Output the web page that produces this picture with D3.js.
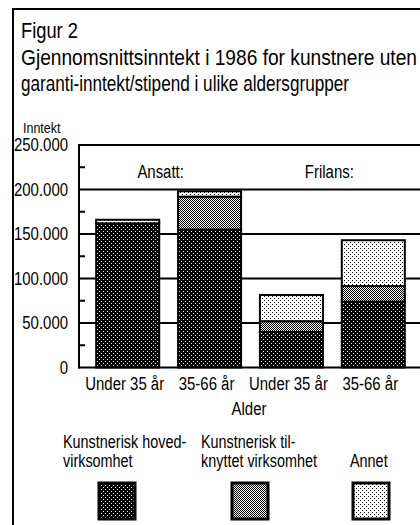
<!DOCTYPE html>
<html>
<head>
<meta charset="utf-8">
<script src="https://cdn.jsdelivr.net/npm/d3@7/dist/d3.min.js"></script>
<style>
  html, body { margin: 0; padding: 0; background: #fff; }
  svg { display: block; }
  text { font-family: "Liberation Sans", Arial, Helvetica, sans-serif; fill: #000; }
</style>
</head>
<body>
<script>
// Average income 1986 by employment form and age group (NOK)
const groups = ["Ansatt", "Ansatt", "Frilans", "Frilans"];
const ages = ["Under 35 år", "35-66 år", "Under 35 år", "35-66 år"];
const hoved = [162000, 155000, 40000, 74000];       // Kunstnerisk hovedvirksomhet
const tilknyttet = [0, 37000, 12000, 17500];        // Kunstnerisk tilknyttet virksomhet
const annet = [4000, 6000, 29500, 51500];           // Annet
const yTicks = [0, 50000, 100000, 150000, 200000, 250000];
const yMinorTicks = [25000, 75000, 125000, 175000, 225000];
const seriesKeys = ["hoved", "tilknyttet", "annet"];
const legendLabels = [
  ["Kunstnerisk hoved-", "virksomhet"],
  ["Kunstnerisk til-", "knyttet virksomhet"],
  ["Annet"]
];
const titleLines = ["Figur 2",
  "Gjennomsnittsinntekt i 1986 for kunstnere uten",
  "garanti-inntekt/stipend i ulike aldersgrupper"];

const W = 420, H = 525;
const svg = d3.select("body").append("svg").attr("width", W).attr("height", H);

// Condensed look: squeeze each text horizontally by a factor
function narrow(sel, f = 0.83) {
  sel.each(function () {
    const w = this.getComputedTextLength();
    d3.select(this).attr("textLength", w * f).attr("lengthAdjust", "spacingAndGlyphs");
  });
  return sel;
}

// Fill patterns
const defs = svg.append("defs");
function pattern(id, bg, fg, cells, size) {
  const p = defs.append("pattern").attr("id", id)
    .attr("patternUnits", "userSpaceOnUse").attr("width", size).attr("height", size);
  p.append("rect").attr("width", size).attr("height", size).attr("fill", bg);
  cells.forEach(([cx, cy, s]) => p.append("rect").attr("x", cx).attr("y", cy)
    .attr("width", s).attr("height", s).attr("fill", fg).attr("shape-rendering", "crispEdges"));
}
pattern("p-hoved", "#000", "#fff", [[1, 1, 1], [3, 3, 1]], 4);
pattern("p-tilknyttet", "#fff", "#000", [[0, 0, 1], [1, 1, 1]], 2);
pattern("p-annet", "#fff", "#000", [[0, 0, 1], [2, 2, 1]], 4);

// Outer frame (open towards right and bottom)
svg.append("path").attr("d", "M13,545V9H445").attr("fill", "none")
  .attr("stroke", "#000").attr("stroke-width", 2);

// Title
const titleW = [57, 396, 328];
titleLines.forEach((t, i) => {
  svg.append("text").attr("x", 21).attr("y", 38 + i * 26.5)
    .attr("font-size", 22).attr("textLength", titleW[i])
    .attr("lengthAdjust", "spacingAndGlyphs").text(t);
});

// Scales
const keys = d3.range(groups.length);
const x = d3.scaleBand().domain(keys).range([79, 422]).paddingInner(0.23).paddingOuter(0.21);
const y = d3.scaleLinear().domain([0, 250000]).range([367.5, 145]);

const loc = d3.formatLocale({ decimal: ",", thousands: ".", grouping: [3], currency: ["", ""] });
const fmt = loc.format(",d");

// Gridlines
svg.append("g").selectAll("line").data(yTicks.filter(d => d > 0)).join("line")
  .attr("x1", 79).attr("x2", W + 10)
  .attr("y1", d => y(d)).attr("y2", d => y(d))
  .attr("stroke", "#000").attr("stroke-width", 2);

// Stacked bars
const rows = keys.map(i => ({ hoved: hoved[i], tilknyttet: tilknyttet[i], annet: annet[i] }));
const stacked = d3.stack().keys(seriesKeys)(rows);
const gBars = svg.append("g");
stacked.forEach(s => {
  gBars.selectAll(null).data(s.map((d, i) => ({ d, i })).filter(o => o.d[1] > o.d[0])).join("rect")
    .attr("x", o => x(o.i)).attr("width", x.bandwidth())
    .attr("y", o => y(o.d[1])).attr("height", o => y(o.d[0]) - y(o.d[1]))
    .attr("fill", `url(#p-${s.key})`)
    .attr("stroke", "#000").attr("stroke-width", 2);
});

// Left axis and baseline
const yAxis = d3.axisLeft(y).tickValues(yTicks).tickSize(0).tickPadding(11).tickFormat(fmt);
const gy = svg.append("g").attr("transform", "translate(79,0)").call(yAxis);
gy.select(".domain").remove();
narrow(gy.selectAll("text").attr("font-size", 18).attr("font-family", null));
svg.append("line").attr("x1", 79).attr("x2", 79).attr("y1", y(250000) - 1).attr("y2", y(0) + 1)
  .attr("stroke", "#000").attr("stroke-width", 2);
svg.append("line").attr("x1", 78).attr("x2", W + 10).attr("y1", y(0)).attr("y2", y(0))
  .attr("stroke", "#000").attr("stroke-width", 2);
svg.append("g").selectAll("line").data(yMinorTicks).join("line")
  .attr("x1", 79).attr("x2", 85).attr("y1", d => y(d)).attr("y2", d => y(d))
  .attr("stroke", "#000").attr("stroke-width", 2);

// Category labels
narrow(svg.append("g").selectAll("text").data(keys).join("text")
  .attr("x", i => x(i) + x.bandwidth() / 2 - 3).attr("y", 390)
  .attr("text-anchor", "middle").attr("font-size", 18).text(i => ages[i]));

// Group headers
const groupNames = Array.from(new Set(groups));
const groupShift = [-8, -3];
narrow(svg.append("g").selectAll("text").data(groupNames).join("text")
  .attr("x", (g, j) => {
    const idx = keys.filter(i => groups[i] === g);
    return (x(idx[0]) + x(idx[idx.length - 1]) + x.bandwidth()) / 2 + groupShift[j];
  })
  .attr("y", 178).attr("text-anchor", "middle").attr("font-size", 18).text(g => g + ":"));

// Axis titles
narrow(svg.append("text").attr("x", 23).attr("y", 133).attr("font-size", 15).text("Inntekt"));
narrow(svg.append("text").attr("x", 249).attr("y", 415).attr("text-anchor", "middle")
  .attr("font-size", 18).text("Alder"));

// Legend
const legX = [63, 201, 350];
const boxX = [99, 232, 353];
legendLabels.forEach((lines, i) => {
  const base = lines.length === 1 ? 467 : 448;
  lines.forEach((t, k) => {
    narrow(svg.append("text").attr("x", legX[i]).attr("y", base + k * 19)
      .attr("font-size", 18).text(t), 0.8);
  });
  svg.append("rect").attr("x", boxX[i]).attr("y", 483).attr("width", 36).attr("height", 36)
    .attr("fill", `url(#p-${seriesKeys[i]})`).attr("stroke", "#000").attr("stroke-width", 3);
});
</script>
</body>
</html>
